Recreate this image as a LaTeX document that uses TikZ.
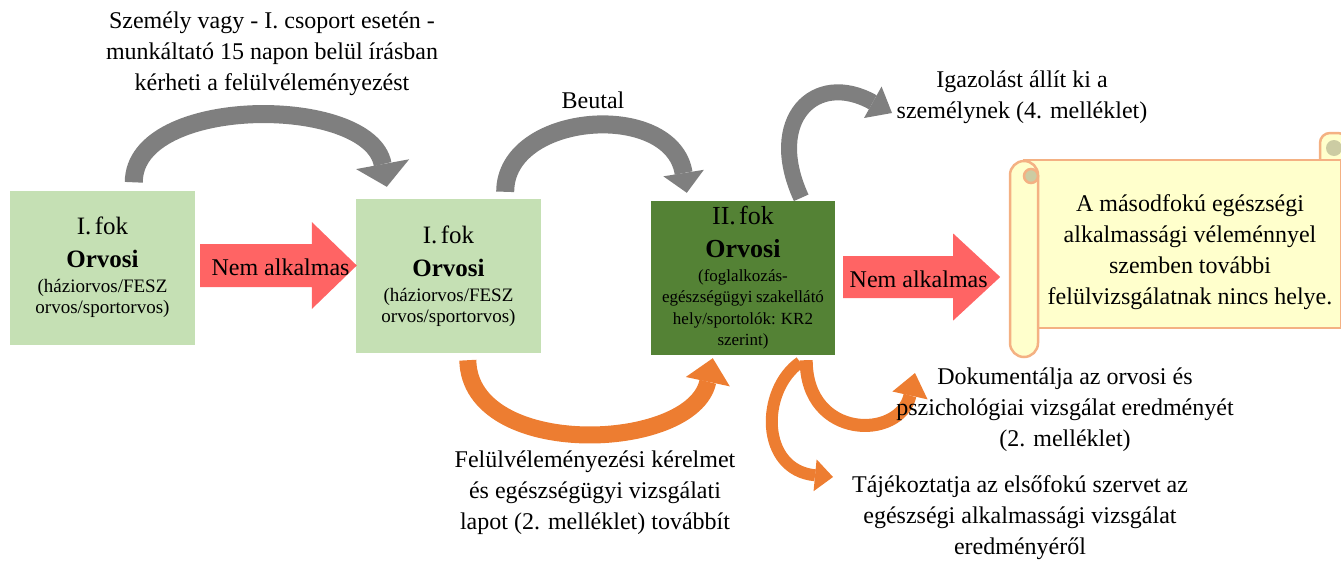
\documentclass[tikz,border=0pt]{standalone}
\usepackage{fontspec}
\setmainfont{Liberation Serif}
\usetikzlibrary{positioning,calc,arrows.meta}

\definecolor{boxlight}{HTML}{C5E0B4}
\definecolor{boxdark}{HTML}{548235}
\definecolor{nemred}{HTML}{FF6464}
\definecolor{arcgray}{HTML}{7F7F7F}
\definecolor{arcorange}{HTML}{ED7D31}
\definecolor{scrollfill}{HTML}{FFFFCC}
\definecolor{scrollline}{HTML}{F4B183}
\definecolor{scrollcurl}{HTML}{CCCCA3}

\begin{document}
\begin{tikzpicture}[x=1pt,y=-1pt,
		lightbox/.style={fill=boxlight, minimum height=154pt, text width=181pt, inner sep=2pt, align=center},
		darkbox/.style={fill=boxdark, minimum height=154pt, text width=180pt, inner sep=2pt, align=center},
		lbl/.style={align=center, font=\fontsize{24}{31}\selectfont, inner sep=0pt},
		grayarc/.style={draw=arcgray},
		orangearc/.style={draw=arcorange},
		scrollpart/.style={draw=scrollline, line width=2.5pt, fill=scrollfill}]
			
			\useasboundingbox (0,0) rectangle (1341,563);
			
			% Define nodes
			\node[lightbox] (f1)  at (102.5,267.5) {\fontsize{25}{33}\selectfont I. fok\\ \textbf{Orvosi}\par\vspace{4pt}\fontsize{19}{21}\selectfont (háziorvos/FESZ\\ orvos/sportorvos)\par};
			\node[lightbox] (f1b) at (448.5,276)   {\fontsize{25}{33}\selectfont I. fok\\ \textbf{Orvosi}\par\vspace{4pt}\fontsize{19}{21}\selectfont (háziorvos/FESZ\\ orvos/sportorvos)\par};
			\node[darkbox]  (f2)  at (743,278)     {\fontsize{26}{33}\selectfont II. fok\\ \textbf{Orvosi}\par\vspace{2pt}\fontsize{17}{21.5}\selectfont (foglalkozás-\\ egészségügyi szakellátó\\ hely/sportolók: KR2\\ szerint)\par};
			
			% Scroll
			\path[scrollpart, rounded corners=10pt] (1320,133) rectangle (1348,175);
			\path[scrollpart] (1024,160) rectangle (1341,328);
			\path[scrollpart, rounded corners=14pt] (1010,161) rectangle (1038,357);
			\fill[scrollcurl] (1334,148) circle[radius=8pt];
			\path[scrollpart, fill=scrollcurl] (1031,176) circle[radius=7pt];
			\node[lbl] (stxt) at (1190,252) {A másodfokú egészségi\\ alkalmassági véleménnyel\\ szemben további\\ felülvizsgálatnak nincs helye.};
			
			% Nem alkalmas arrows
			\coordinate (r1s) at ($(f1.east)+(5,-2)$);
			\coordinate (r1e) at ($(f1b.west |- r1s)+(1,0)$);
			\coordinate (r2s) at ($(f2.east)+(8,-1)$);
			\coordinate (r2e) at ($(r2s)+(157,0)$);
			\fill[nemred] ($(r1s)+(0,-21.5)$) -- ($(r1e)+(-45,-21.5)$) -- ($(r1e)+(-45,-43.5)$) -- (r1e)
				-- ($(r1e)+(-45,43.5)$) -- ($(r1e)+(-45,21.5)$) -- ($(r1s)+(0,21.5)$) -- cycle;
			\fill[nemred] ($(r2s)+(0,-21)$) -- ($(r2e)+(-47,-21)$) -- ($(r2e)+(-47,-43.5)$) -- (r2e)
				-- ($(r2e)+(-47,43.5)$) -- ($(r2e)+(-47,21)$) -- ($(r2s)+(0,21)$) -- cycle;
			\node[lbl] (n1) at ($(r1s)!0.5!(r1e)+(2,2)$) {Nem alkalmas};
			\node[lbl] (n2) at ($(r2s)!0.5!(r2e)+(-3,2)$) {Nem alkalmas};
			
			% Connect the nodes
			\coordinate (g1s) at ($(f1.north west)+(124,-8)$);
			\coordinate (g1e) at ($(f1b.north west)+(31,-12)$);
			\coordinate (g2s) at ($(f1b.north east)+(-36,-7)$);
			\coordinate (g2e) at ($(f2.north west)+(36,-8)$);
			\coordinate (g3s) at ($(f2.north east)+(-34,-3)$);
			\coordinate (g3e) at (892,113);
			\coordinate (o4s) at ($(f1b.south west)+(112,7)$);
			\coordinate (o4e) at ($(f2.south west)+(62,3)$);
			\coordinate (o5s) at ($(f2.south east)+(-29,5)$);
			\coordinate (o5e) at (915,373);
			\coordinate (o6s) at ($(f2.south east)+(-35,7)$);
			\coordinate (o6e) at (833,477);
			
			\draw[grayarc, line width=18pt, -{Triangle[width=54pt,length=23pt,line width=0pt]}] (g1s) .. controls +(0,-88) and +(-17,-92) .. (g1e);
			\draw[grayarc, line width=18pt, -{Triangle[width=41pt,length=20pt,line width=0pt]}] (g2s) .. controls +(0,-80) and +(-15,-93) .. (g2e);
			\draw[grayarc, line width=16pt, -{Triangle[width=36pt,length=22pt,line width=0pt]}] (g3s) .. controls +(-36,-78) and +(-77,-43) .. (g3e);
			\draw[orangearc, line width=17pt, -{Triangle[width=45pt,length=24pt,line width=0pt]}] (o4s) .. controls +(2,100) and +(-20,94) .. (o4e);
			\draw[orangearc, line width=13pt, -{Triangle[width=36pt,length=23pt,line width=0pt]}] (o5s) .. controls +(0,80) and +(-15,67) .. (o5e);
			\draw[orangearc, line width=12pt, -{Triangle[width=32pt,length=18pt,line width=0pt]}] (o6s) .. controls +(-40,28) and +(-73,-7) .. (o6e);
			
			% Labels
			\node[lbl] (lszem)  at (272,54)   {Személy vagy - I. csoport esetén -\\ munkáltató 15 napon belül írásban\\ kérheti a felülvéleményezést};
			\node[lbl] (lbeut)  at (593,100)  {Beutal};
			\node[lbl] (ligaz)  at (1022,97)  {Igazolást állít ki a\\ személynek (4. melléklet)};
			\node[lbl] (lfelul) at (595,493)  {Felülvéleményezési kérelmet\\ és egészségügyi vizsgálati\\ lapot (2. melléklet) továbbít};
			\node[lbl] (ldok)   at (1065,410) {Dokumentálja az orvosi és\\ pszichológiai vizsgálat eredményét\\ (2. melléklet)};
			\node[lbl] (ltaj)   at (1020,518) {Tájékoztatja az elsőfokú szervet az\\ egészségi alkalmassági vizsgálat\\ eredményéről};
			
\end{tikzpicture}
\end{document}
